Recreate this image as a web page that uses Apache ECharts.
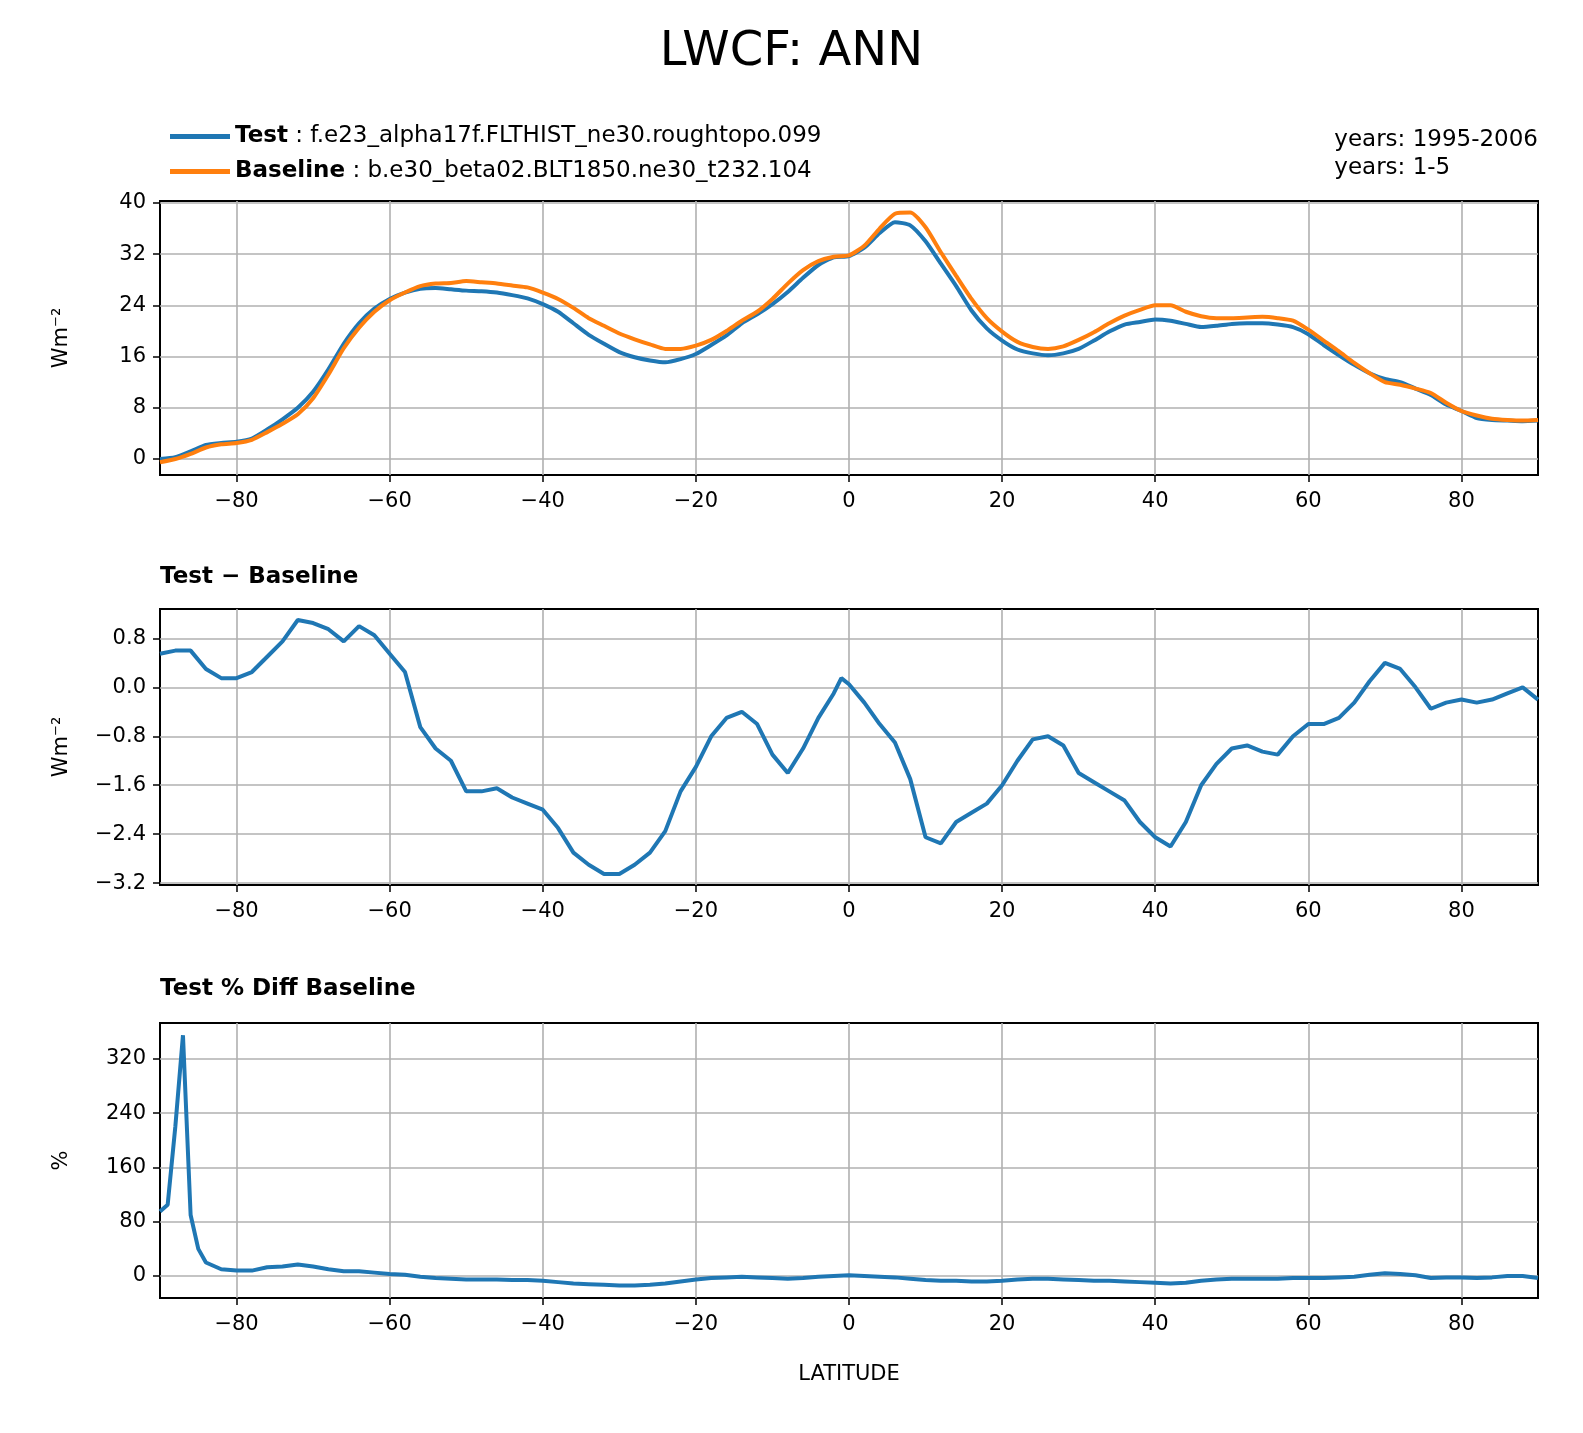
<!DOCTYPE html>
<html><head><meta charset="utf-8">
<script src="https://cdn.jsdelivr.net/npm/echarts@6/dist/echarts.min.js"></script>
<style>html,body{margin:0;padding:0;background:#fff;overflow:hidden}#c{width:1583px;height:1433px}</style>
</head><body><div id="c"></div>
<script>
// latitudes every 2 degrees
const lat = [];
for (let v = -90; v <= 90; v += 2) lat.push(v);

const testVals = [0,0.3,1.2,2.2,2.5,2.7,3.2,4.6,6.2,8,10.5,14,18,21.2,23.5,25,26,26.6,26.7,26.5,
  26.3,26.2,26,25.6,25.1,24.2,23,21.2,19.4,18,16.7,15.9,15.4,15.1,15.6,16.4,17.8,19.3,21.2,22.6,
  24.2,26.1,28.3,30.3,31.5,31.7,33,35.3,37,36.5,34,30.5,27,23.2,20.4,18.5,17.1,16.5,16.2,16.5,
  17.2,18.5,19.9,21,21.4,21.8,21.6,21.1,20.6,20.8,21.1,21.2,21.2,21,20.6,19.5,17.8,16.2,14.7,13.4,
  12.5,12,11,10,8.5,7.5,6.4,6.1,6,5.9,6];
const baseVals = [-0.5,0,0.8,1.8,2.3,2.5,3,4.2,5.5,7,9.5,13.2,17.3,20.5,23,24.8,26,27,27.4,27.5,
  27.8,27.6,27.4,27.1,26.8,26,25,23.6,22,20.8,19.6,18.7,17.9,17.2,17.2,17.7,18.6,20,21.6,23,
  25,27.4,29.5,30.9,31.6,31.8,33.3,36,38.3,38.5,36.2,32.3,28.6,25,22,19.9,18.3,17.5,17.2,17.6,
  18.6,19.8,21.2,22.4,23.3,24,24,23,22.3,22,22,22.1,22.2,22,21.6,20.2,18.5,16.8,15,13.4,
  12,11.6,11,10.3,8.8,7.5,6.8,6.3,6.1,6,6.1];

const diffLat = [-90,-88,-86,-84,-82,-80,-78,-76,-74,-72,-70,-68,-66,-64,-62,-60,-58,-56,-54,-52,
  -50,-48,-46,-44,-42,-40,-38,-36,-34,-32,-30,-28,-26,-24,-22,-20,-18,-16,-14,-12,-10,-8,-6,-4,-2,-1,0,
  2,4,6,8,10,12,14,16,18,20,22,24,26,28,30,32,34,36,38,40,42,44,46,48,50,52,54,56,58,60,62,64,66,68,
  70,72,74,76,78,80,82,84,86,88,90];
const diffVals = [0.55,0.6,0.6,0.3,0.15,0.15,0.25,0.5,0.75,1.1,1.05,0.95,0.75,1.0,0.85,0.55,0.25,-0.65,-1,-1.2,
  -1.7,-1.7,-1.65,-1.8,-1.9,-2.0,-2.3,-2.7,-2.9,-3.05,-3.05,-2.9,-2.7,-2.35,-1.7,-1.3,-0.8,-0.5,-0.4,-0.6,-1.1,-1.4,-1.0,-0.5,-0.1,0.15,0.05,
  -0.25,-0.6,-0.9,-1.5,-2.45,-2.55,-2.2,-2.05,-1.9,-1.6,-1.2,-0.85,-0.8,-0.95,-1.4,-1.55,-1.7,-1.85,-2.2,-2.45,-2.6,-2.2,-1.6,-1.25,-1.0,-0.95,-1.05,-1.1,-0.8,-0.6,-0.6,-0.5,-0.25,0.1,
  0.4,0.3,0,-0.35,-0.25,-0.2,-0.25,-0.2,-0.1,0,-0.2];

const pctLat = [-90,-89,-88,-87,-86,-85,-84,-82,-80,-78,-76,-74,-72,-70,-68,-66,-64,-62,-60,-58,-56,-54,-52,
  -50,-48,-46,-44,-42,-40,-38,-36,-34,-32,-30,-28,-26,-24,-22,-20,-18,-16,-14,-12,-10,-8,-6,-4,-2,0,
  2,4,6,8,10,12,14,16,18,20,22,24,26,28,30,32,34,36,38,40,42,44,46,48,50,52,54,56,58,60,62,64,66,68,
  70,72,74,76,78,80,82,84,86,88,90];
const pctVals = [95,105,220,355,90,40,20,10,8,8,13,14,17,14,10,7,7,5,3,2,-1,-3,-4,
  -5,-5,-5,-6,-6,-7,-9,-11,-12,-13,-14,-14,-13,-11,-8,-5,-3,-2,-1,-2,-3,-4,-3,-1,0,1,
  0,-1,-2,-4,-6,-7,-7,-8,-8,-7,-5,-4,-4,-5,-6,-7,-7,-8,-9,-10,-11,-10,-7,-5,-4,-4,-4,-4,-3,-3,-3,-2,-1,2,
  4,3,1,-3,-2,-2,-3,-2,0,0,-3];

const xTicks = [-80,-60,-40,-20,0,20,40,60,80];
const yTicks1 = [0,8,16,24,32,40];
const yTicks2 = [-3.2,-2.4,-1.6,-0.8,0.0,0.8];
const yTicks3 = [0,80,160,240,320];

const BLUE = '#1f77b4', ORANGE = '#ff7f0e', GRID = '#b0b0b0';
const FONT = 'DejaVu Sans';
const pairs = (xs, ys) => xs.map((x, i) => [x, ys[i]]);
const fmtX = v => (v < 0 ? '\u2212' + (-v) : '' + v);
const fmtY = v => (v < 0 ? '\u2212' + (-v).toFixed(1) : v.toFixed(1));

function gridLines(ys) {
  const d = xTicks.map(x => ({ xAxis: x }));
  ys.forEach(y => d.push({ yAxis: y }));
  return { silent: true, symbol: 'none', label: { show: false },
    lineStyle: { color: GRID, type: 'solid', width: 1.6 }, data: d, z: 1 };
}

const grids = [
  { left: 160, right: 45, top: 201, height: 274 },
  { left: 160, right: 45, top: 609, height: 276 },
  { left: 160, right: 45, top: 1023, height: 275 }
].map(g => Object.assign(g, { show: true, borderColor: '#000', borderWidth: 2 }));

const tickFont = { fontSize: 21, color: '#000', fontFamily: FONT };
const xAxes = [0, 1, 2].map(i => ({
  type: 'value', gridIndex: i, min: -90, max: 90,
  name: i === 2 ? 'LATITUDE' : '', nameLocation: 'middle', nameGap: 66,
  nameTextStyle: { fontSize: 21, color: '#000', fontFamily: FONT },
  axisLine: { show: true, onZero: false, lineStyle: { color: '#000', width: 2 } },
  axisTick: { show: true, customValues: xTicks, length: 7, lineStyle: { color: '#000', width: 1.5 } },
  axisLabel: Object.assign({ customValues: xTicks, formatter: fmtX, margin: 16 }, tickFont),
  splitLine: { show: false }
}));
function yAxis(i, min, max, ticks, fmt, name) {
  return {
    type: 'value', gridIndex: i, min: min, max: max,
    name: name, nameLocation: 'middle', nameGap: 88,
    nameTextStyle: { fontSize: 21, color: '#000', fontFamily: FONT },
    axisLine: { show: true, onZero: false, lineStyle: { color: '#000', width: 2 } },
    axisTick: { show: true, customValues: ticks, length: 7, lineStyle: { color: '#000', width: 1.5 } },
    axisLabel: Object.assign({ customValues: ticks, formatter: fmt, margin: 14 }, tickFont),
    splitLine: { show: false }
  };
}

const option = {
  animation: false,
  backgroundColor: '#fff',
  title: { text: 'LWCF: ANN', left: 'center', top: 24,
    textStyle: { fontSize: 48, fontWeight: 'normal', color: '#000', fontFamily: FONT } },
  legend: {
    data: ['Test', 'Baseline'], orient: 'vertical', left: 165, top: 120, itemGap: 12,
    itemWidth: 60, itemHeight: 5, icon: 'rect',
    formatter: n => n === 'Test' ? '{b|Test} : f.e23_alpha17f.FLTHIST_ne30.roughtopo.099'
                                 : '{b|Baseline} : b.e30_beta02.BLT1850.ne30_t232.104',
    textStyle: { fontSize: 23, color: '#000', fontFamily: FONT,
      rich: { b: { fontSize: 23, fontWeight: 'bold', fontFamily: FONT } } }
  },
  graphic: [
    { type: 'text', right: 45, top: 126, style: { text: 'years: 1995-2006\nyears: 1-5', align: 'right',
      fontSize: 23, lineHeight: 28, fill: '#000', fontFamily: FONT } },
    { type: 'text', left: 160, top: 566, style: { text: 'Test \u2212 Baseline', fontSize: 23,
      fontWeight: 'bold', fill: '#000', fontFamily: FONT } },
    { type: 'text', left: 160, top: 978, style: { text: 'Test % Diff Baseline', fontSize: 23,
      fontWeight: 'bold', fill: '#000', fontFamily: FONT } }
  ],
  grid: grids,
  xAxis: xAxes,
  yAxis: [
    yAxis(0, -2.5, 40.3, yTicks1, v => '' + v, 'Wm\u207B\u00B2'),
    yAxis(1, -3.23, 1.28, yTicks2, fmtY, 'Wm\u207B\u00B2'),
    yAxis(2, -32.4, 373, yTicks3, v => '' + v, '%')
  ],
  series: [
    { name: 'Test', type: 'line', xAxisIndex: 0, yAxisIndex: 0, data: pairs(lat, testVals),
      showSymbol: false, smooth: 0.2, lineStyle: { color: BLUE, width: 4 }, itemStyle: { color: BLUE }, z: 3,
      markLine: gridLines(yTicks1) },
    { name: 'Baseline', type: 'line', xAxisIndex: 0, yAxisIndex: 0, data: pairs(lat, baseVals),
      showSymbol: false, smooth: 0.2, lineStyle: { color: ORANGE, width: 4 }, itemStyle: { color: ORANGE }, z: 4 },
    { name: 'diff', type: 'line', xAxisIndex: 1, yAxisIndex: 1, data: pairs(diffLat, diffVals),
      showSymbol: false, lineStyle: { color: BLUE, width: 4 }, itemStyle: { color: BLUE }, z: 3,
      markLine: gridLines(yTicks2) },
    { name: 'pct', type: 'line', xAxisIndex: 2, yAxisIndex: 2, data: pairs(pctLat, pctVals),
      showSymbol: false, lineStyle: { color: BLUE, width: 4 }, itemStyle: { color: BLUE }, z: 3,
      markLine: gridLines(yTicks3) }
  ]
};
echarts.init(document.getElementById('c')).setOption(option);
</script></body></html>
